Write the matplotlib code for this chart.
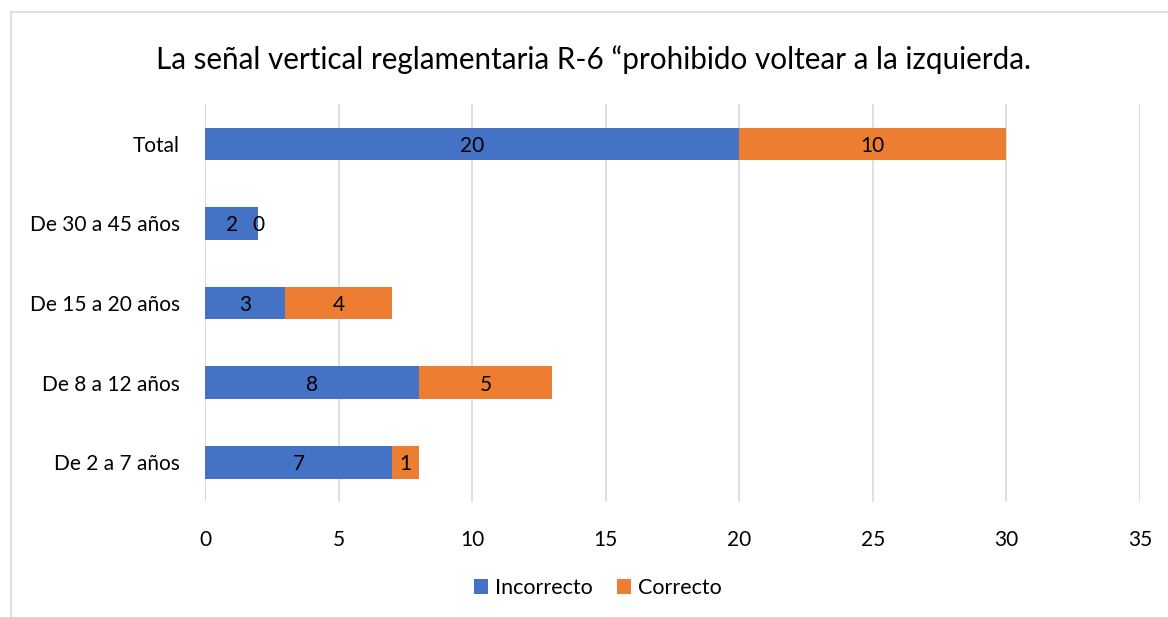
import matplotlib
matplotlib.use("Agg")
import matplotlib.pyplot as plt
from matplotlib.lines import Line2D

plt.rcParams['font.family'] = ['Lato', 'DejaVu Sans']

categories = ["De 2 a 7 años", "De 8 a 12 años", "De 15 a 20 años", "De 30 a 45 años", "Total"]
incorrecto = [7, 8, 3, 2, 20]
correcto = [1, 5, 4, 0, 10]
xticks = [0, 5, 10, 15, 20, 25, 30, 35]
title = "La señal vertical reglamentaria R-6 \u201cprohibido voltear a la izquierda."

BLUE = "#4472C4"
ORANGE = "#ED7D31"
GRID = "#D9D9D9"

fig = plt.figure(figsize=(11.68, 6.17), dpi=100)
ax = fig.add_axes([0.1755, 0.1864, 0.8005, 0.645])

# outer chart frame (top and left edges)
fx = 10.5 / 1168
fy = 1 - 12 / 617
fig.lines.append(Line2D([fx, 1.0], [fy, fy], transform=fig.transFigure,
                        color="#D9D9D9", linewidth=1.2))
fig.lines.append(Line2D([fx, fx], [0.0, fy], transform=fig.transFigure,
                        color="#D9D9D9", linewidth=1.2))

y = list(range(len(categories)))
h = 0.41
b1 = ax.barh(y, incorrecto, height=h, color=BLUE, label="Incorrecto", zorder=3)
b2 = ax.barh(y, correcto, left=incorrecto, height=h, color=ORANGE, label="Correcto", zorder=3)

for bars in (b1, b2):
    for rect, val in zip(bars, bars.datavalues):
        cx = rect.get_x() + rect.get_width() / 2
        cy = rect.get_y() + rect.get_height() / 2
        ax.text(cx, cy, f"{val:g}", ha="center", va="center_baseline",
                fontsize=15, color="#000000", zorder=4)

ax.set_xlim(0, 35)
ax.set_ylim(-0.5, len(categories) - 0.5)
ax.set_xticks(xticks)
ax.set_yticks(y)
ax.set_yticklabels(categories, va="center_baseline")
ax.tick_params(axis="both", length=0, labelsize=15, colors="#000000")
ax.tick_params(axis="x", pad=20)
ax.tick_params(axis="y", pad=18)
ax.grid(axis="x", color=GRID, linewidth=1.2, zorder=0)
for s in ax.spines.values():
    s.set_visible(False)
ax.axvline(0, color=GRID, linewidth=1.2, zorder=2)

fig.text(0.508, 0.903, title, ha="center", va="center", fontsize=21.3, color="#000000")

fig.legend(handles=[b1, b2], labels=["Incorrecto", "Correcto"],
           loc="center", bbox_to_anchor=(598 / 1168, 1 - 588 / 617), ncol=2,
           frameon=False, fontsize=15.5, handlelength=0.65, handleheight=0.65,
           handletextpad=0.35, columnspacing=1.1)

fig.savefig("out.png", dpi=100, facecolor="white")
